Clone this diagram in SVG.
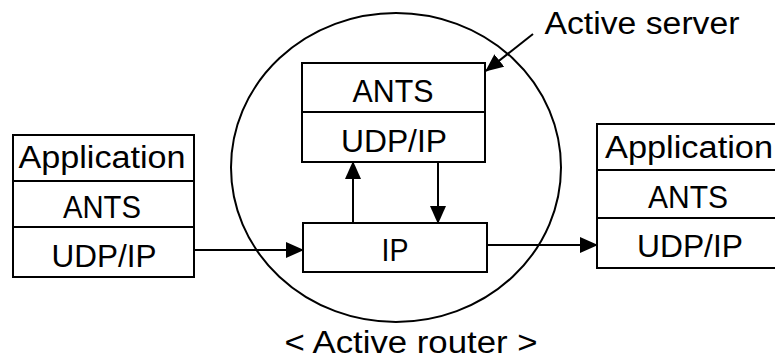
<svg xmlns="http://www.w3.org/2000/svg" width="775" height="363" viewBox="0 0 775 363">
<style>
.box{fill:none;stroke:#000;stroke-width:2}
.ln{fill:none;stroke:#000;stroke-width:2}
text{font-family:"Liberation Sans",Arial,sans-serif;font-size:31px;fill:#000;text-anchor:middle}
</style>
<defs>
<marker id="ah" markerUnits="userSpaceOnUse" markerWidth="18" markerHeight="16" refX="17" refY="8" orient="auto">
<path d="M0,0 L18,8 L0,16 Z" fill="#000"/>
</marker>
</defs>
<rect width="775" height="363" fill="#fff"/>
<g id="router">
<ellipse cx="396" cy="167.5" rx="165" ry="154.5" class="ln"/>
<text x="411" y="353" textLength="253" lengthAdjust="spacingAndGlyphs">&lt; Active router &gt;</text>
</g>
<g id="left-stack">
<rect x="13" y="135" width="181" height="142" class="box"/>
<line x1="13" y1="181" x2="194" y2="181" class="ln"/>
<line x1="13" y1="227" x2="194" y2="227" class="ln"/>
<text x="102" y="168" textLength="167" lengthAdjust="spacingAndGlyphs">Application</text>
<text x="102" y="218" textLength="78" lengthAdjust="spacingAndGlyphs">ANTS</text>
<text x="104" y="267" textLength="105" lengthAdjust="spacingAndGlyphs">UDP/IP</text>
</g>
<g id="server">
<rect x="302" y="63" width="183" height="99" class="box"/>
<line x1="302" y1="112" x2="485" y2="112" class="ln"/>
<text x="393" y="102" textLength="81" lengthAdjust="spacingAndGlyphs">ANTS</text>
<text x="394" y="152" textLength="106" lengthAdjust="spacingAndGlyphs">UDP/IP</text>
</g>
<g id="ip">
<rect x="303" y="223" width="184" height="49" class="box"/>
<text x="395" y="261" textLength="27" lengthAdjust="spacingAndGlyphs">IP</text>
</g>
<g id="right-stack">
<rect x="597" y="124" width="181" height="144" class="box"/>
<line x1="597" y1="170" x2="778" y2="170" class="ln"/>
<line x1="597" y1="218" x2="778" y2="218" class="ln"/>
<text x="689" y="158" textLength="168" lengthAdjust="spacingAndGlyphs">Application</text>
<text x="688" y="208" textLength="80" lengthAdjust="spacingAndGlyphs">ANTS</text>
<text x="690" y="257" textLength="106" lengthAdjust="spacingAndGlyphs">UDP/IP</text>
</g>
<g id="label-server">
<text x="642" y="34" textLength="195" lengthAdjust="spacingAndGlyphs">Active server</text>
</g>
<g id="connectors">
<line x1="194" y1="250" x2="303" y2="250" class="ln" marker-end="url(#ah)"/>
<line x1="487" y1="245" x2="597" y2="245" class="ln" marker-end="url(#ah)"/>
<line x1="353" y1="223" x2="353" y2="162" class="ln" marker-end="url(#ah)"/>
<line x1="438" y1="162" x2="438" y2="223" class="ln" marker-end="url(#ah)"/>
<line x1="533" y1="34" x2="486" y2="71" class="ln" marker-end="url(#ah)"/>
</g>
</svg>
